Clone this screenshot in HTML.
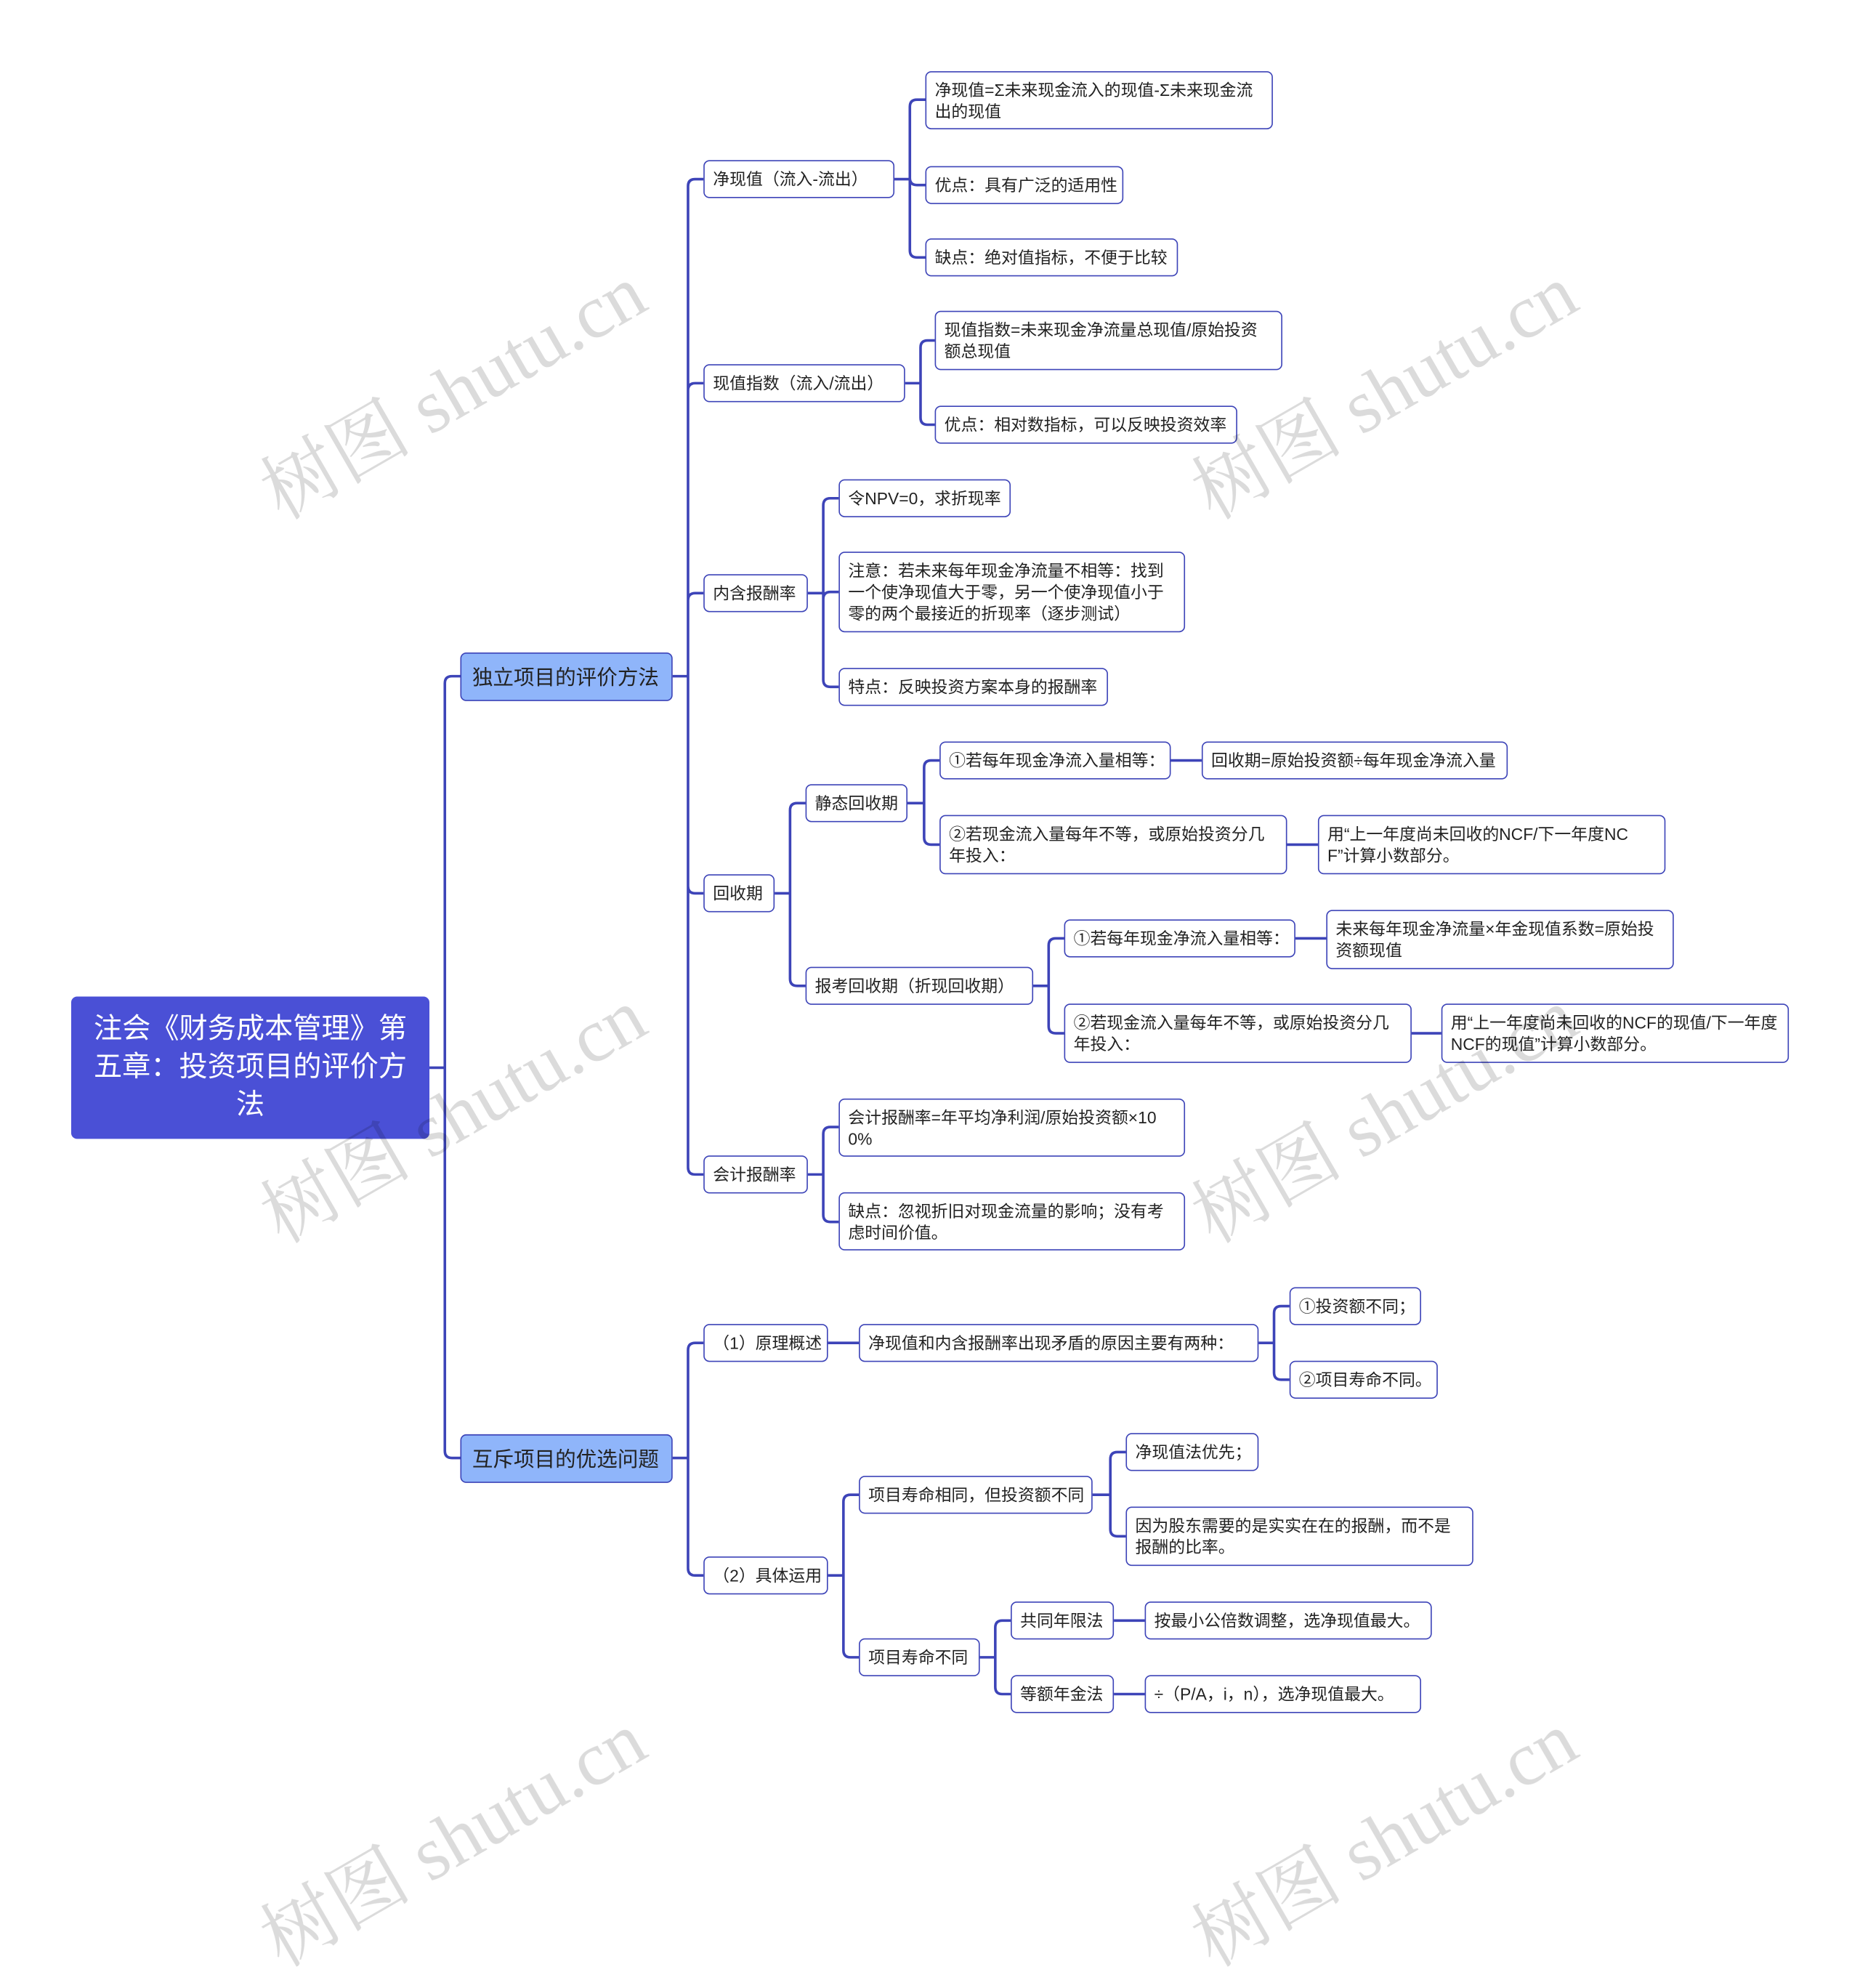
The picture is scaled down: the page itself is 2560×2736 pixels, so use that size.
<!DOCTYPE html>
<html><head><meta charset="utf-8">
<style>
html,body{margin:0;padding:0;background:#fff;}
body{width:2560px;height:2454px;overflow:hidden;position:relative;}
#c{position:absolute;left:0;top:0;width:1568px;height:1503px;transform:scale(1.6327);transform-origin:0 0;font-family:"Liberation Sans","Noto Sans CJK SC",sans-serif;}
.n{position:absolute;box-sizing:border-box;background:#fff;border:1.4px solid #3d44b8;border-radius:5px;font-size:14px;line-height:18px;color:#222;padding:0 7px;display:flex;align-items:center;white-space:nowrap;}
.w{white-space:normal;word-break:break-all;}
.l1{background:#8fb5fa;font-size:17.5px;color:#222;padding:0 9px;border-color:#3d44b8;}
.root{background:#4a50d6;border:none;color:#fff;font-size:24px;line-height:32px;text-align:center;justify-content:center;white-space:normal;padding:0 14px;border-radius:5px;}
svg{position:absolute;left:0;top:0;}
.wm{position:absolute;font-family:"Liberation Serif","Noto Serif CJK SC",serif;font-size:64px;color:rgba(0,0,0,0.14);transform:rotate(-30deg);white-space:nowrap;transform-origin:center;}
</style></head><body><div id="c">
<svg width="1568" height="1503" id="s"><g id="g" fill="none" stroke="#3d44b8" stroke-width="2.2"></g></svg>

<div class="n root" style="left:60px;top:840px;width:302px;height:120px;">注会《财务成本管理》第五章：投资项目的评价方法</div>
<div class="n l1" style="left:388px;top:550px;width:179px;height:41px;">独立项目的评价方法</div>
<div class="n l1" style="left:388px;top:1209px;width:179px;height:41px;">互斥项目的优选问题</div>

<div class="n" style="left:593px;top:135px;width:161px;height:32px;">净现值（流入-流出）</div>
<div class="n" style="left:593px;top:307px;width:170px;height:32px;">现值指数（流入/流出）</div>
<div class="n" style="left:593px;top:484px;width:88px;height:32px;">内含报酬率</div>
<div class="n" style="left:593px;top:737px;width:60px;height:32px;">回收期</div>
<div class="n" style="left:593px;top:974px;width:88px;height:32px;">会计报酬率</div>

<div class="n w" style="left:780px;top:60px;width:293px;height:49px;">净现值=Σ未来现金流入的现值-Σ未来现金流出的现值</div>
<div class="n" style="left:780px;top:140px;width:167px;height:32px;">优点：具有广泛的适用性</div>
<div class="n" style="left:780px;top:201px;width:213px;height:32px;">缺点：绝对值指标，不便于比较</div>

<div class="n w" style="left:788px;top:262px;width:293px;height:50px;">现值指数=未来现金净流量总现值/原始投资额总现值</div>
<div class="n" style="left:788px;top:342px;width:255px;height:32px;">优点：相对数指标，可以反映投资效率</div>

<div class="n" style="left:707px;top:404px;width:145px;height:32px;">令NPV=0，求折现率</div>
<div class="n w" style="left:707px;top:465px;width:292px;height:68px;">注意：若未来每年现金净流量不相等：找到一个使净现值大于零，另一个使净现值小于零的两个最接近的折现率（逐步测试）</div>
<div class="n" style="left:707px;top:563px;width:227px;height:32px;">特点：反映投资方案本身的报酬率</div>

<div class="n" style="left:679px;top:661px;width:86px;height:32px;">静态回收期</div>
<div class="n" style="left:679px;top:815px;width:192px;height:32px;">报考回收期（折现回收期）</div>
<div class="n" style="left:792px;top:625px;width:195px;height:32px;">①若每年现金净流入量相等：</div>
<div class="n" style="left:1013px;top:625px;width:258px;height:32px;">回收期=原始投资额÷每年现金净流入量</div>
<div class="n w" style="left:792px;top:687px;width:293px;height:50px;">②若现金流入量每年不等，或原始投资分几年投入：</div>
<div class="n w" style="left:1111px;top:687px;width:293px;height:50px;">用“上一年度尚未回收的NCF/下一年度NCF”计算小数部分。</div>
<div class="n" style="left:897px;top:775px;width:195px;height:32px;">①若每年现金净流入量相等：</div>
<div class="n w" style="left:1118px;top:767px;width:293px;height:50px;">未来每年现金净流量×年金现值系数=原始投资额现值</div>
<div class="n w" style="left:897px;top:846px;width:293px;height:50px;">②若现金流入量每年不等，或原始投资分几年投入：</div>
<div class="n w" style="left:1215px;top:846px;width:293px;height:50px;">用“上一年度尚未回收的NCF的现值/下一年度NCF的现值”计算小数部分。</div>

<div class="n w" style="left:707px;top:926px;width:292px;height:49px;">会计报酬率=年平均净利润/原始投资额×100%</div>
<div class="n w" style="left:707px;top:1005px;width:292px;height:49px;">缺点：忽视折旧对现金流量的影响；没有考虑时间价值。</div>

<div class="n" style="left:593px;top:1116px;width:105px;height:32px;">（1）原理概述</div>
<div class="n" style="left:724px;top:1116px;width:337px;height:32px;">净现值和内含报酬率出现矛盾的原因主要有两种：</div>
<div class="n" style="left:1087px;top:1085px;width:111px;height:32px;">①投资额不同；</div>
<div class="n" style="left:1087px;top:1147px;width:125px;height:32px;">②项目寿命不同。</div>
<div class="n" style="left:593px;top:1312px;width:105px;height:32px;">（2）具体运用</div>
<div class="n" style="left:724px;top:1244px;width:197px;height:32px;">项目寿命相同，但投资额不同</div>
<div class="n" style="left:724px;top:1381px;width:102px;height:32px;">项目寿命不同</div>
<div class="n" style="left:949px;top:1208px;width:112px;height:32px;">净现值法优先；</div>
<div class="n w" style="left:949px;top:1270px;width:293px;height:50px;">因为股东需要的是实实在在的报酬，而不是报酬的比率。</div>
<div class="n" style="left:852px;top:1350px;width:87px;height:32px;">共同年限法</div>
<div class="n" style="left:965px;top:1350px;width:242px;height:32px;">按最小公倍数调整，选净现值最大。</div>
<div class="n" style="left:852px;top:1412px;width:87px;height:32px;">等额年金法</div>
<div class="n" style="left:965px;top:1412px;width:233px;height:32px;">÷（P/A，i，n），选净现值最大。</div>

<div class="wm" style="left:200px;top:280px;">树图 shutu.cn</div>
<div class="wm" style="left:985px;top:280px;">树图 shutu.cn</div>
<div class="wm" style="left:200px;top:890px;">树图 shutu.cn</div>
<div class="wm" style="left:985px;top:890px;">树图 shutu.cn</div>
<div class="wm" style="left:200px;top:1500px;">树图 shutu.cn</div>
<div class="wm" style="left:985px;top:1500px;">树图 shutu.cn</div>
</div>
<script>
var groups=[
[362,900,375,388,[570,1229]],
[567,570,580,593,[151,323,500,753,990]],
[754,151,767,780,[84,156,217]],
[763,323,776,788,[287,358]],
[681,500,694,707,[420,499,579]],
[653,753,666,679,[677,831]],
[765,677,779,792,[641,712]],
[871,831,884,897,[791,871]],
[681,990,694,707,[950,1030]],
[567,1229,580,593,[1132,1328]],
[1061,1132,1074,1087,[1101,1163]],
[698,1328,711,724,[1260,1397]],
[921,1260,936,949,[1224,1295]],
[826,1397,839,852,[1366,1428]]
];
var lines=[[987,641,1013],[1085,712,1111],[1092,791,1118],[1190,871,1215],[698,1132,724],[939,1366,965],[939,1428,965]];
var d="",r=6;
groups.forEach(function(g){var px=g[0],py=g[1],bx=g[2],cx=g[3];
g[4].forEach(function(cy){var s=cy<py?1:-1;
d+="M"+px+" "+py+"H"+bx+"V"+(cy+s*r)+"Q"+bx+" "+cy+" "+(bx+r)+" "+cy+"H"+cx;});});
lines.forEach(function(l){d+="M"+l[0]+" "+l[1]+"H"+l[2];});
var p=document.createElementNS("http://www.w3.org/2000/svg","path");p.setAttribute("d",d);
document.getElementById("g").appendChild(p);
</script>
</body></html>
